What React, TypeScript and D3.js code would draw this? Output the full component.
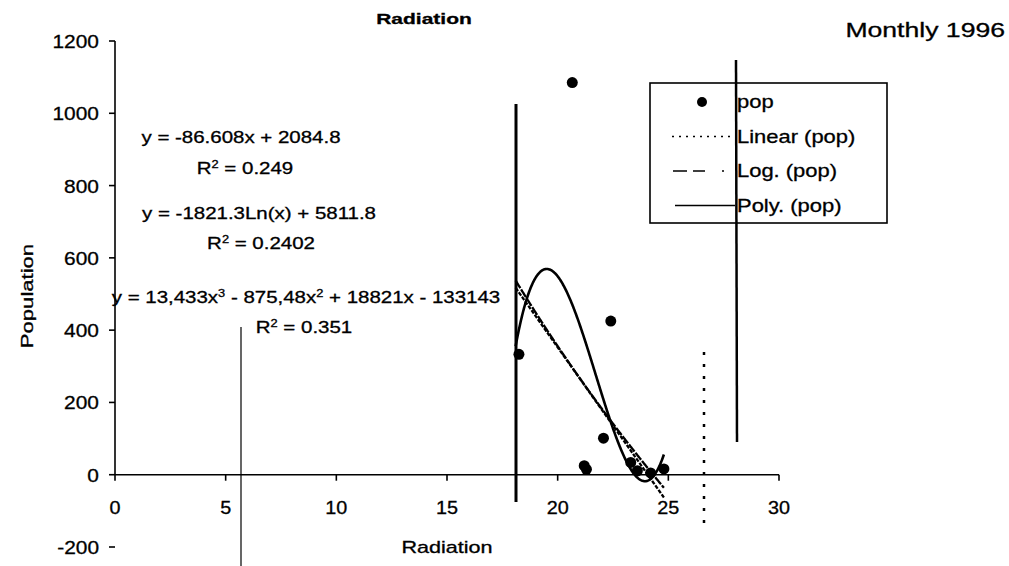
import React from "react";
import * as d3 from "d3";

// Monthly 1996: population against radiation
const radiation = [18.25, 20.66, 21.2, 21.3, 22.07, 22.4, 23.3, 23.6, 24.2, 24.8];
const population = [333, 1085, 25, 15, 101, 425, 34, 11, 5, 16];

const yTicks = [-200, 0, 200, 400, 600, 800, 1000, 1200];
const xTicks = [0, 5, 10, 15, 20, 25, 30];

const legendLabels = ["pop", "Linear (pop)", "Log. (pop)", "Poly. (pop)"];

// trendline equations as reported; text pieces alternate normal / superscript
const linear = (x: number) => -86.608 * x + 2084.8;
const logFit = (x: number) => -1821.3 * Math.log(x) + 5811.8;
const poly = (x: number) => 13.433 * x ** 3 - 875.48 * x ** 2 + 18821 * x - 133143;

const equationLines: string[][] = [
  ["y = -86.608x + 2084.8"],
  ["R", "2", " = 0.249"],
  ["y = -1821.3Ln(x) + 5811.8"],
  ["R", "2", " = 0.2402"],
  ["y = 13,433x", "3", " - 875,48x", "2", " + 18821x - 133143"],
  ["R", "2", " = 0.351"],
];

const W = 1009;
const H = 566;

type TProps = {
  x: number;
  y: number;
  size: number;
  sx?: number;
  anchor?: "start" | "middle" | "end";
  weight?: string;
  rotate?: number;
  children: React.ReactNode;
};

// wide, heavy type of the printed page
function T({ x, y, size, sx = 1, anchor = "start", weight = "normal", rotate = 0, children }: TProps) {
  return (
    <text
      transform={`translate(${x},${y}) rotate(${rotate}) scale(${sx},1)`}
      fontSize={size}
      textAnchor={anchor}
      fontWeight={weight}
      fill="#000"
      stroke="#000"
      strokeWidth={0.3}
    >
      {children}
    </text>
  );
}

export default function App() {
  const x = d3.scaleLinear().domain([0, 30]).range([115, 779]);
  const y = d3.scaleLinear().domain([-200, 1200]).range([547, 41]);

  const xMin = 18.1;
  const xMax = d3.max(radiation) as number;
  const xs = d3.range(xMin, xMax + 1e-9, 0.02);
  const line = (f: (v: number) => number) =>
    d3.line<number>().x((v) => x(v)).y((v) => y(f(v)))(xs) || "";

  const eqSize = 16;
  const eqSx = 1.28;
  const eqPos = [
    [241, 143],
    [245, 174],
    [259, 219],
    [261, 249],
    [306, 303],
    [304, 333],
  ];

  return (
    <svg
      width={W}
      height={H}
      style={{ position: "absolute", left: 0, top: 0, background: "#fff" }}
      fontFamily="Liberation Sans, Arial, sans-serif"
    >
      <rect width={W} height={H} fill="#fff" />

      {/* titles */}
      <T x={424} y={24} size={15} sx={1.4} anchor="middle" weight="bold">
        Radiation
      </T>
      <T x={1005} y={37} size={20} sx={1.33} anchor="end">
        Monthly 1996
      </T>

      {/* y axis */}
      <line x1={x(0)} x2={x(0)} y1={y(1200)} y2={y(0)} stroke="#000" strokeWidth={1.6} />
      {yTicks.map((t) => (
        <g key={t}>
          <line x1={x(0) - 6} x2={x(0)} y1={y(t)} y2={y(t)} stroke="#000" strokeWidth={1.6} />
          <T x={x(0) - 16} y={y(t) + 7} size={19} sx={1.1} anchor="end">
            {t}
          </T>
        </g>
      ))}

      {/* x axis */}
      <line x1={x(0)} x2={x(30)} y1={y(0)} y2={y(0)} stroke="#000" strokeWidth={1.6} />
      {xTicks.map((t) => (
        <g key={t}>
          <line x1={x(t)} x2={x(t)} y1={y(0)} y2={y(0) + 6} stroke="#000" strokeWidth={1.6} />
          <T x={x(t)} y={y(0) + 39} size={18} sx={1.1} anchor="middle">
            {t}
          </T>
        </g>
      ))}

      {/* axis titles */}
      <T x={447} y={553} size={16} sx={1.35} anchor="middle">
        Radiation
      </T>
      <T x={33} y={296} size={16} sx={1.38} anchor="middle" rotate={-90}>
        Population
      </T>

      {/* trendlines */}
      <path d={line(linear)} fill="none" stroke="#000" strokeWidth={2.3} strokeDasharray="4 1.5" />
      <path d={line(logFit)} fill="none" stroke="#000" strokeWidth={2.3} strokeDasharray="9 1.5" />
      <path d={line(poly)} fill="none" stroke="#000" strokeWidth={2.6} />

      {/* points */}
      {radiation.map((r, i) => (
        <circle key={i} cx={x(r)} cy={y(population[i])} r={5.5} fill="#000" />
      ))}

      {/* equations */}
      {equationLines.map((parts, i) => (
        <T key={i} x={eqPos[i][0]} y={eqPos[i][1]} size={eqSize} sx={eqSx} anchor="middle">
          {parts.map((p, j) => {
            const isSup = j % 2 === 1;
            const prevSup = j > 0 && (j - 1) % 2 === 1;
            return (
              <tspan
                key={j}
                dy={isSup ? -6 : prevSup ? 6 : 0}
                fontSize={isSup ? 10 : eqSize}
              >
                {p}
              </tspan>
            );
          })}
        </T>
      ))}

      {/* legend */}
      <g>
        <rect x={650} y={83} width={237} height={140} fill="#fff" stroke="#000" strokeWidth={1.6} />
        {legendLabels.map((lab, i) => {
          const cy = 102 + i * 34.5;
          return (
            <g key={lab}>
              {i === 0 && <circle cx={702} cy={cy} r={5} fill="#000" />}
              {i === 1 && (
                <line x1={672} x2={730} y1={cy} y2={cy} stroke="#000" strokeWidth={1.6} strokeDasharray="2 5" />
              )}
              {i === 2 && (
                <line x1={673} x2={730} y1={cy} y2={cy} stroke="#000" strokeWidth={1.6} strokeDasharray="14 6 12 17 2 6" />
              )}
              {i === 3 && <line x1={675} x2={735} y1={cy} y2={cy} stroke="#000" strokeWidth={1.6} />}
              <T x={737} y={cy + 6} size={18} sx={1.22}>
                {lab}
              </T>
            </g>
          );
        })}
      </g>

      {/* creases on the scanned page */}
      <g stroke="#000" fill="none">
        <line x1={516} x2={516} y1={104} y2={502} strokeWidth={3} />
        <line x1={736} x2={737} y1={60} y2={442} strokeWidth={2.5} />
        <line x1={241} x2={241} y1={327} y2={566} strokeWidth={1.2} />
        <line x1={704} x2={704} y1={352} y2={530} strokeWidth={2.5} strokeDasharray="3 9" />
      </g>
    </svg>
  );
}
